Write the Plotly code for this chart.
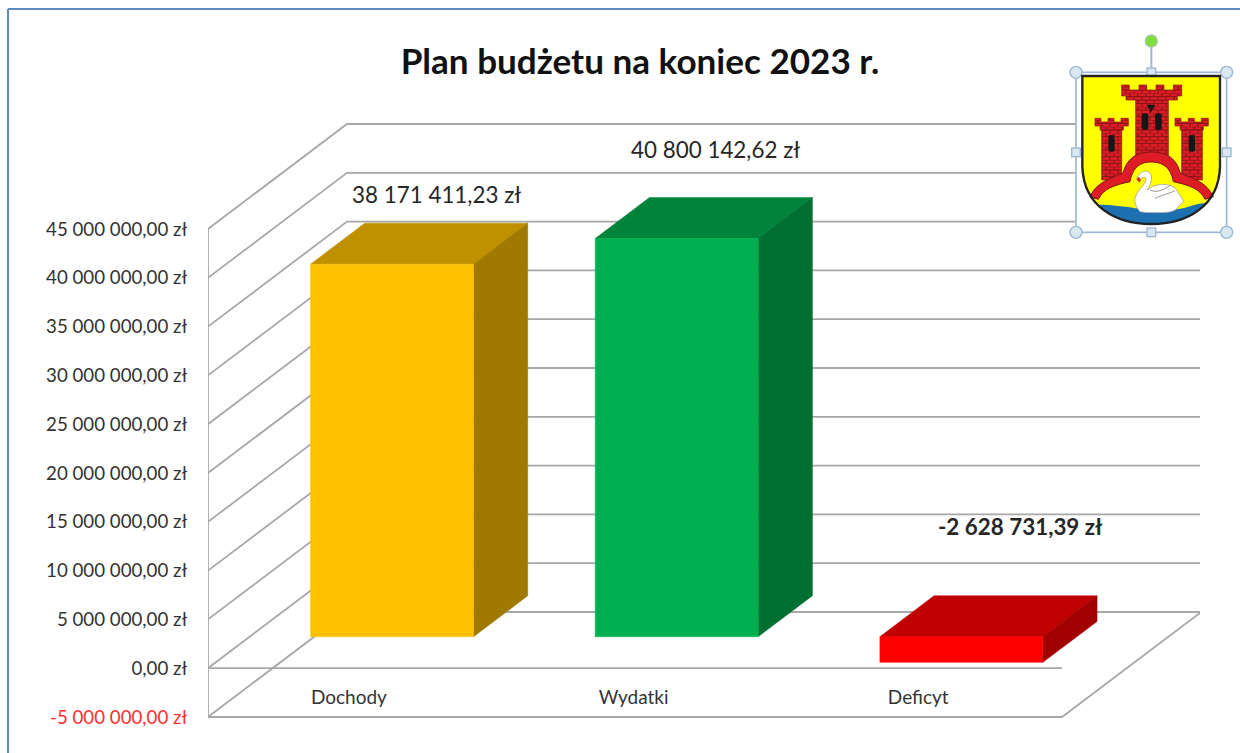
import base64
import plotly.graph_objects as go

# ---------- data ----------
categories = ["Dochody", "Wydatki", "Deficyt"]
values = [38171411.23, 40800142.62, -2628731.39]
value_labels = ["38 171 411,23 zł", "40 800 142,62 zł", "-2 628 731,39 zł"]
tick_values = [-5000000, 0, 5000000, 10000000, 15000000, 20000000, 25000000,
               30000000, 35000000, 40000000, 45000000]
title_text = "Plan budżetu na koniec 2023 r."
face_colors = ["#FFC000", "#00B050", "#FF0000"]
top_colors = ["#BF9000", "#00843C", "#C00000"]
side_colors = ["#A07A00", "#006F32", "#A00000"]

# ---------- pseudo-3D geometry (in axis units) ----------
W, H = 1240, 753
M_L, M_R, M_T, M_B = 208, 40, 30, 16
FLOOR_PX = 717  # page row of the lowest gridline
CATEGORY_AXIS_PX = 684  # page row the category labels hang from
PX_PER_CAT = 284.67
PX_PER_VAL = 9.76 / 1e6
DEPTH_X = 139 / PX_PER_CAT
DEPTH_Y = 105 / PX_PER_VAL
BAR_W = 0.5725
D0, D1 = 0.30, 0.69
N = len(categories)
GRID = "#A8A8A8"


def pr(c, v, d):
    return c + d * DEPTH_X, v + d * DEPTH_Y


def px_x(p):
    return (p - M_L) / (W - M_L - M_R)


def px_y(p):
    return 1 - (p - M_T) / (H - M_T - M_B)


def fmt(v):
    s = f"{abs(v):,.2f}".replace(",", " ").replace(".", ",") + " zł"
    return ("-" + s) if v < 0 else s


fig = go.Figure()


def poly(pts, color):
    xs = [p[0] for p in pts] + [pts[0][0]]
    ys = [p[1] for p in pts] + [pts[0][1]]
    fig.add_trace(go.Scatter(x=xs, y=ys, mode="lines", fill="toself", fillcolor=color,
                             line=dict(color=color, width=0.5), hoverinfo="skip",
                             showlegend=False))


# walls, floor and gridlines
gx, gy = [], []
lo, hi = tick_values[0], tick_values[-1]
for t in tick_values:
    a = pr(0, t, 0)
    b = pr(0, t, 1)
    c = pr(N, t, 1)
    gx += [a[0], b[0], c[0], None]
    gy += [a[1], b[1], c[1], None]
for seg in [[pr(0, lo, 0), pr(0, hi, 0)],
            [pr(0, lo, 0), pr(N, lo, 0), pr(N, lo, 1)],
            [pr(0, 0, 0), pr(N, 0, 0)]]:
    gx += [p[0] for p in seg] + [None]
    gy += [p[1] for p in seg] + [None]
fig.add_trace(go.Scatter(x=gx, y=gy, mode="lines", line=dict(color=GRID, width=1.8),
                         hoverinfo="skip", showlegend=False))

# bars
for i, v in enumerate(values):
    c0 = i + 0.5 - BAR_W / 2
    c1 = i + 0.5 + BAR_W / 2
    vtop, vbot = max(v, 0), min(v, 0)
    poly([pr(c0, vtop, D0), pr(c1, vtop, D0), pr(c1, vtop, D1), pr(c0, vtop, D1)], top_colors[i])
    poly([pr(c1, vbot, D0), pr(c1, vtop, D0), pr(c1, vtop, D1), pr(c1, vbot, D1)], side_colors[i])
    poly([pr(c0, vbot, D0), pr(c1, vbot, D0), pr(c1, vtop, D0), pr(c0, vtop, D0)], face_colors[i])

# value labels, anchored at the back-top centre of each bar
label_shift = [(-10, 29), (-15, 48), (5, 69)]
for i, v in enumerate(values):
    ax, ay = pr(i + 0.5, max(v, 0), D1)
    fig.add_annotation(x=ax, y=ay, text=f"<b>{value_labels[i]}</b>" if v < 0 else value_labels[i],
                       showarrow=False, xshift=label_shift[i][0], yshift=label_shift[i][1],
                       xanchor="center", yanchor="middle",
                       font=dict(family="Lato", size=22.4, color="#262626"))

# ---------- coat of arms picture with its selection frame ----------
svg = """<svg xmlns="http://www.w3.org/2000/svg" xmlns:xlink="http://www.w3.org/1999/xlink" width="600" height="690" viewBox="0 0 600 690">
<defs>
<filter id="b" x="-5%" y="-5%" width="110%" height="110%"><feGaussianBlur stdDeviation="2"/></filter>
<pattern id="br" width="24" height="20" patternUnits="userSpaceOnUse">
<rect width="24" height="20" fill="#DD1F26"/>
<path d="M0 0H24M0 10H24M6 0V10M18 10V20" stroke="#7E1215" stroke-width="3" fill="none"/>
</pattern>
<clipPath id="s"><path d="M127 168H540V440C536 560 440 612 334 612C228 612 131 560 127 440Z"/></clipPath>
</defs>
<rect x="108" y="157" width="452" height="480" fill="#fff"/>
<g filter="url(#b)">
<line x1="334" y1="70" x2="334" y2="157" stroke="#9DB8D2" stroke-width="6"/>
<rect x="108" y="157" width="452" height="480" fill="none" stroke="#9DB8D2" stroke-width="5"/>
<circle cx="334" cy="63" r="18" fill="#7FE03C" stroke="#A8C8A0" stroke-width="4"/>
<g fill="#D7E8F1" stroke="#9DB8D2" stroke-width="4">
<circle cx="108" cy="157" r="18"/><circle cx="560" cy="157" r="18"/>
<circle cx="108" cy="637" r="18"/><circle cx="560" cy="637" r="18"/>
<rect x="321" y="144" width="26" height="26"/><rect x="321" y="624" width="26" height="26"/>
<rect x="95" y="384" width="26" height="26"/><rect x="547" y="384" width="26" height="26"/>
</g>
<path d="M127 168H540V440C536 560 440 612 334 612C228 612 131 560 127 440Z" fill="#FFFF00"/>
<g clip-path="url(#s)">
<path d="M120 570C170 545 210 555 270 562C320 572 400 575 440 562C480 548 510 545 550 555V630H120Z" fill="#1D6FAF"/>
</g>
<g stroke="#7E1215" stroke-width="2" fill="url(#br)">
<path d="M287 238H385V420H287Z"/>
<path d="M245 195H268V210H297V195H320V210H348V195H372V210H400V195H425V228H412V240H258V228H245Z"/>
<path d="M185 328H245V480H185Z"/>
<path d="M165 295H183V306H204V295H222V306H243V295H265V318H250V330H180V318H165Z"/>
<path d="M425 328H487V480H425Z"/>
<path d="M405 295H423V306H445V295H463V306H484V295H505V318H490V330H420V318H405Z"/>
</g>
<g fill="#181818">
<rect x="305" y="280" width="20" height="50" rx="8"/><rect x="345" y="280" width="20" height="50" rx="8"/>
<rect x="205" y="345" width="19" height="50" rx="6"/><rect x="446" y="345" width="19" height="50" rx="6"/>
<path d="M319 254H347L338 268L333 278L328 268Z"/>
</g>
<path d="M150 530C170 485 215 475 250 458C262 408 300 396 334 396C370 396 408 408 420 458C455 475 500 485 520 530L495 538C480 505 445 495 400 485C392 440 365 426 334 426C302 426 278 440 270 485C225 495 190 505 175 538Z" fill="#DD1F26" stroke="#7E1215" stroke-width="3"/>
<path d="M300 575C270 540 290 520 310 495C322 480 320 470 310 472C300 475 300 480 298 487L290 478C295 460 312 448 325 455C340 465 335 490 322 510C345 490 390 485 410 510C420 530 432 540 430 545L415 560C405 578 380 578 350 578C330 578 310 578 300 575Z" fill="#fff" stroke="#8F8F8F" stroke-width="2"/>
<path d="M330 510C350 520 370 510 392 495M345 535C365 525 385 522 405 512" stroke="#9A9A9A" stroke-width="3" fill="none"/>
<path d="M290 478L298 487L303 480L296 470Z" fill="#D92020"/>
<path d="M127 168H540V440C536 560 440 612 334 612C228 612 131 560 127 440Z" fill="none" stroke="#202020" stroke-width="7"/>
</g>
</svg>"""
source = "data:image/svg+xml;base64," + base64.b64encode(svg.encode("utf-8")).decode("ascii")
fig.add_layout_image(source=source, xref="paper", yref="paper", x=px_x(1040), y=px_y(20),
                     sizex=200 / (W - M_L - M_R), sizey=230 / (H - M_T - M_B),
                     xanchor="left", yanchor="top", sizing="stretch", layer="above")

# outer frame
fig.add_shape(type="line", xref="paper", yref="paper", x0=px_x(8), x1=px_x(8), y0=px_y(9), y1=px_y(760),
              line=dict(color="#5F88C2", width=2))
fig.add_shape(type="line", xref="paper", yref="paper", x0=px_x(8), x1=px_x(1245), y0=px_y(9), y1=px_y(9),
              line=dict(color="#5F88C2", width=2))

tick_text = [f'<span style="color:#FF3030">{fmt(t)}</span>' if t < 0 else fmt(t) for t in tick_values]

fig.update_layout(
    width=W, height=H, margin=dict(l=M_L, r=M_R, t=M_T, b=M_B),
    paper_bgcolor="white", plot_bgcolor="rgba(0,0,0,0)", showlegend=False,
    title=dict(text=f"<b>{title_text}</b>", x=640 / W, xanchor="center", y=1 - 62 / H, yanchor="middle",
               font=dict(family="Lato", size=35.1, color="#111111")),
    xaxis=dict(range=[0, (W - M_L - M_R) / PX_PER_CAT], showgrid=False, zeroline=False, showline=False,
               anchor="free", position=px_y(CATEGORY_AXIS_PX),
               tickmode="array", tickvals=[i + 0.495 for i in range(N)], ticktext=categories,
               ticks="", tickfont=dict(family="Lato", size=19, color="#333333")),
    yaxis=dict(range=[lo - (H - M_B - FLOOR_PX) / PX_PER_VAL, lo + (FLOOR_PX - M_T) / PX_PER_VAL],
               showgrid=False, zeroline=False, showline=False,
               tickmode="array", tickvals=tick_values, ticktext=tick_text,
               ticks="outside", ticklen=16, tickcolor="rgba(0,0,0,0)",
               tickfont=dict(family="Lato", size=18.7, color="#333333")),
)

fig.write_html("out.html", post_script="document.body.style.margin='0';document.body.style.overflow='hidden';",
               config={"displayModeBar": False})
